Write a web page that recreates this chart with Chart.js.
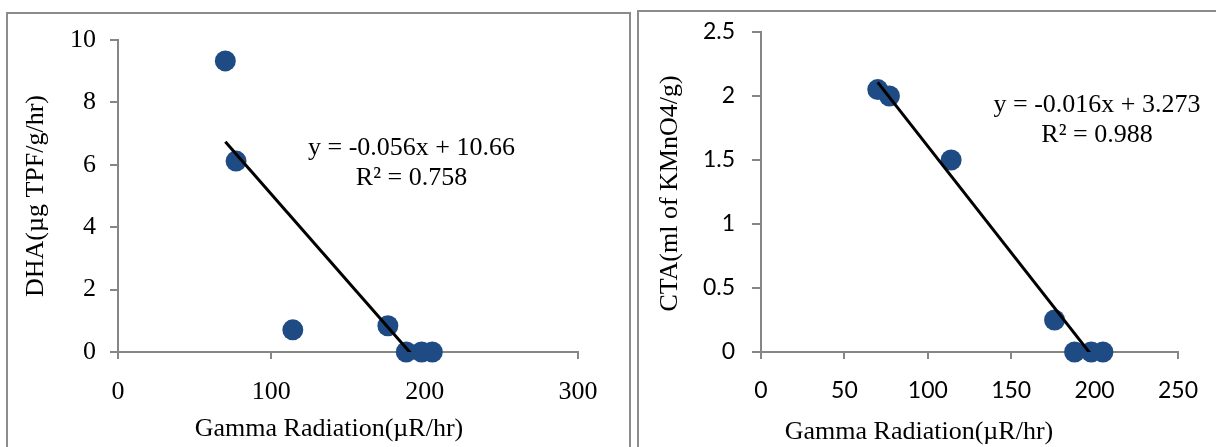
<!DOCTYPE html>
<html>
<head>
<meta charset="utf-8">
<script src="https://cdn.jsdelivr.net/npm/chart.js@4/dist/chart.umd.min.js"></script>
<style>
  html, body { margin: 0; padding: 0; background: #fff; }
  body { position: relative; width: 1216px; height: 447px; overflow: hidden; }
  .frame { position: absolute; border: 2px solid #8c8c8c; box-sizing: border-box; }
  #frameDha { left: 6px; top: 12px; width: 625px; height: 470px; }
  #frameCta { left: 637px; top: 10px; width: 620px; height: 470px; }
  canvas { position: absolute; top: 0; }
  #dhaChart { left: 0; }
  #ctaChart { left: 634px; }
</style>
</head>
<body>
<div class="frame" id="frameDha"></div>
<div class="frame" id="frameCta"></div>
<canvas id="dhaChart" width="634" height="447"></canvas>
<canvas id="ctaChart" width="582" height="447"></canvas>
<script>
// Gamma radiation readings (µR/hr) at the sampling sites
const gammaRadiation = [70, 77, 114, 176, 188, 198, 205];
// Dehydrogenase activity (µg TPF/g/hr)
const dhaValues = [9.33, 6.12, 0.71, 0.84, 0, 0, 0];
// Catalase activity (ml of KMnO4/g)
const ctaValues = [2.05, 2.0, 1.5, 0.25, 0, 0, 0];

const dhaTicks = [0, 2, 4, 6, 8, 10];
const dhaRadiationTicks = [0, 100, 200, 300];
const ctaTicks = [0, 0.5, 1, 1.5, 2, 2.5];
const ctaRadiationTicks = [0, 50, 100, 150, 200, 250];

const dhaEquation = ['y = -0.056x + 10.66', 'R\u00B2 = 0.758'];
const ctaEquation = ['y = -0.016x + 3.273', 'R\u00B2 = 0.988'];

const xTitle = 'Gamma Radiation(\u00B5R/hr)';
const dhaTitle = 'DHA(\u00B5g TPF/g/hr)';
const ctaTitle = 'CTA(ml of KMnO4/g)';

const SERIF = '"Liberation Serif", "Times New Roman", serif';
const SANS = 'Lato, "Liberation Sans", sans-serif';
const POINT_COLOR = '#1f4b84';
const AXIS_COLOR = '#868686';

// Least-squares linear trend through the points
function linearFit(xs, ys) {
  const n = xs.length;
  const mx = xs.reduce((s, v) => s + v, 0) / n;
  const my = ys.reduce((s, v) => s + v, 0) / n;
  let sxy = 0, sxx = 0;
  for (let i = 0; i < n; i++) {
    sxy += (xs[i] - mx) * (ys[i] - my);
    sxx += (xs[i] - mx) * (xs[i] - mx);
  }
  const slope = sxy / sxx;
  return { slope, intercept: my - slope * mx };
}

function trendPoints(xs, ys) {
  const fit = linearFit(xs, ys);
  const lo = Math.min(...xs), hi = Math.max(...xs);
  return [lo, hi].map(x => ({ x, y: fit.slope * x + fit.intercept }));
}

// Axis titles and the trendline equation, drawn as canvas text
const annotate = {
  id: 'annotate',
  afterDraw(chart, args, o) {
    const { ctx, chartArea: a } = chart;
    ctx.save();
    ctx.fillStyle = '#000';
    ctx.font = '26px ' + SERIF;
    ctx.textAlign = 'center';
    ctx.textBaseline = 'alphabetic';
    o.equation.forEach((line, i) => {
      ctx.fillText(line, a.left + o.eqX, a.top + o.eqY + i * 30);
    });
    ctx.fillText(o.xTitle, a.left + o.xTitleX, a.bottom + o.xTitleY);
    ctx.translate(o.yTitleX, (a.top + a.bottom) / 2 + o.yTitleDy);
    ctx.rotate(-Math.PI / 2);
    ctx.fillText(o.yTitle, 0, 0);
    ctx.restore();
  }
};

function makeChart(id, cfg) {
  const tickFont = { family: cfg.tickFamily, size: cfg.tickSize };
  const plain = v => String(v);
  return new Chart(document.getElementById(id), {
    data: {
      datasets: [
        {
          type: 'line',
          data: trendPoints(gammaRadiation, cfg.values),
          borderColor: '#000',
          borderWidth: 3,
          pointRadius: 0,
          fill: false,
          order: 0,
          clip: 0
        },
        {
          type: 'scatter',
          data: gammaRadiation.map((x, i) => ({ x, y: cfg.values[i] })),
          backgroundColor: POINT_COLOR,
          borderColor: POINT_COLOR,
          borderWidth: 0,
          pointRadius: 10.5,
          pointHoverRadius: 10.5,
          order: 1,
          clip: false
        }
      ]
    },
    options: {
      responsive: false,
      animation: false,
      events: [],
      layout: { padding: cfg.padding },
      plugins: {
        legend: { display: false },
        tooltip: { enabled: false },
        annotate: cfg.annotate
      },
      scales: {
        x: {
          type: 'linear',
          min: cfg.xTicks[0],
          max: cfg.xTicks[cfg.xTicks.length - 1],
          afterBuildTicks: s => { s.ticks = cfg.xTicks.map(v => ({ value: v })); },
          afterFit: s => { s.height = cfg.xHeight; },
          border: { display: true, color: AXIS_COLOR, width: 2 },
          grid: { drawOnChartArea: false, drawTicks: true, tickLength: 7, color: AXIS_COLOR, lineWidth: 2 },
          ticks: { autoSkip: false, maxRotation: 0, color: '#000', font: tickFont, padding: cfg.xTickPad, callback: plain }
        },
        y: {
          type: 'linear',
          min: cfg.yTicks[0],
          max: cfg.yTicks[cfg.yTicks.length - 1],
          afterBuildTicks: s => { s.ticks = cfg.yTicks.map(v => ({ value: v })); },
          afterFit: s => { s.width = cfg.yWidth; },
          border: { display: true, color: AXIS_COLOR, width: 2 },
          grid: { drawOnChartArea: false, drawTicks: true, tickLength: cfg.yTickLen, color: AXIS_COLOR, lineWidth: 2 },
          ticks: { autoSkip: false, color: '#000', font: tickFont, padding: cfg.yTickPad, callback: plain }
        }
      }
    },
    plugins: [annotate]
  });
}

makeChart('dhaChart', {
  values: dhaValues,
  xTicks: dhaRadiationTicks,
  yTicks: dhaTicks,
  tickFamily: SERIF,
  tickSize: 26,
  padding: { top: 40, right: 56, bottom: 0, left: 0 },
  yWidth: 118,
  xHeight: 95,
  yTickLen: 8,
  yTickPad: 14,
  xTickPad: 18,
  annotate: {
    equation: dhaEquation, eqX: 293.5, eqY: 115,
    xTitle: xTitle, xTitleX: 211, xTitleY: 84,
    yTitle: dhaTitle, yTitleX: 43, yTitleDy: 0
  }
});

makeChart('ctaChart', {
  values: ctaValues,
  xTicks: ctaRadiationTicks,
  yTicks: ctaTicks,
  tickFamily: SANS,
  tickSize: 23,
  padding: { top: 32, right: 22, bottom: 0, left: 0 },
  yWidth: 127,
  xHeight: 95,
  yTickLen: 9,
  yTickPad: 17,
  xTickPad: 18,
  annotate: {
    equation: ctaEquation, eqX: 336, eqY: 80,
    xTitle: xTitle, xTitleX: 158, xTitleY: 87,
    yTitle: ctaTitle, yTitleX: 43, yTitleDy: 1.5
  }
});
</script>
</body>
</html>
